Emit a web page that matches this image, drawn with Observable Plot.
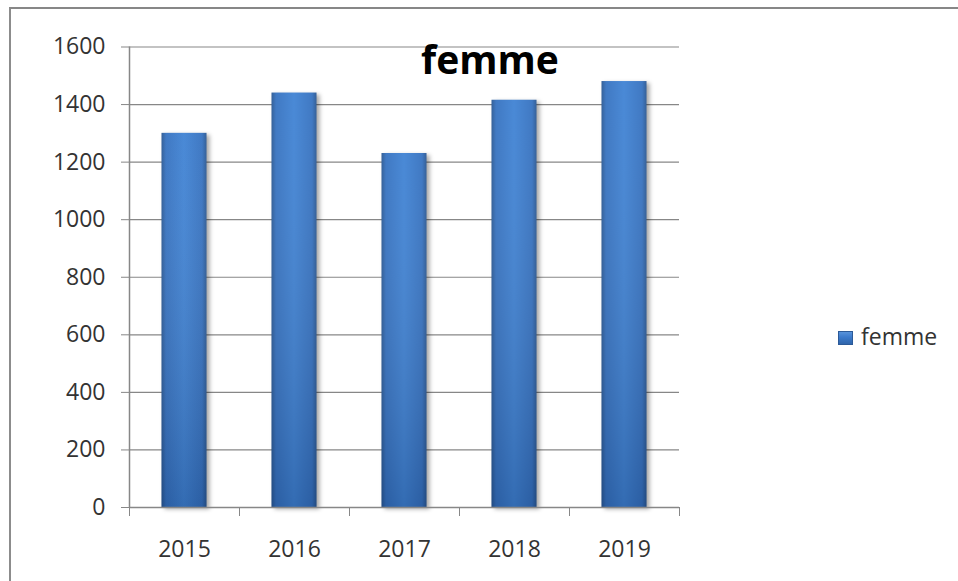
<!DOCTYPE html>
<html>
<head>
<meta charset="utf-8">
<script src="https://cdn.jsdelivr.net/npm/d3@7"></script>
<script src="https://cdn.jsdelivr.net/npm/@observablehq/plot@0.6"></script>
<style>
  html, body { margin: 0; padding: 0; background: #fff; }
  #wrap { position: relative; width: 958px; height: 581px; overflow: hidden; font-family: "Open Sans", sans-serif; }
  #border { position: absolute; left: 9px; top: 7px; right: -5px; bottom: -5px; border-top: 2px solid #878787; border-left: 2px solid #8c8c8c; pointer-events: none; }
  #title { position: absolute; left: 390px; top: 39px; width: 200px; text-align: center; font-weight: 700; font-size: 39px; line-height: 1; color: #000; }
  #legend { position: absolute; left: 838px; top: 325px; font-size: 23px; line-height: 1; color: #333; display: flex; align-items: flex-start; }
  #legend .sw { width: 15px; height: 14px; margin-top: 6px; margin-right: 8px; background: linear-gradient(180deg, #5d97dd 0%, #3b7acb 45%, #2e62a6 100%); box-shadow: inset 0 0 0 1px #2c5a98; }
  svg { position: absolute; left: 0; top: 0; }
</style>
</head>
<body>
<div id="wrap">
  <div id="chart"></div>
  <div id="title"></div>
  <div id="legend"><div class="sw"></div><span id="legtext"></span></div>
  <div id="border"></div>
</div>
<script>
// ---- data ----
const years = ["2015", "2016", "2017", "2018", "2019"];
const femme = [1300, 1440, 1230, 1415, 1480];
const seriesName = "femme";
const yTicks = [0, 200, 400, 600, 800, 1000, 1200, 1400, 1600];

const data = years.map((y, i) => ({ year: y, i, value: femme[i] }));
const labelPos = years.map((_, i) => i + 0.5);
const boundaries = d3.range(years.length + 1);

document.getElementById("title").textContent = seriesName;
document.getElementById("legtext").textContent = seriesName;

const gray = "#878787";
const inset = 32.5;

const chart = Plot.plot({
  width: 958,
  height: 581,
  marginLeft: 129,
  marginRight: 279,
  marginTop: 46.5,
  marginBottom: 74,
  style: { fontFamily: "Open Sans, sans-serif", fontSize: "23px", color: "#333", background: "transparent" },
  x: { domain: [0, years.length], axis: null, label: null },
  y: { domain: [0, 1600], axis: null, label: null },
  marks: [
    Plot.ruleY(yTicks.filter(d => d > 0), { stroke: gray, strokeWidth: 1.2, x1: 0, x2: years.length }),
    Plot.rectY(data, { x1: "i", x2: d => d.i + 1, y1: 0, y2: "value", insetLeft: inset, insetRight: inset, fill: "url(#barH)" }),
    Plot.rectY(data, { x1: "i", x2: d => d.i + 1, y1: 0, y2: "value", insetLeft: inset, insetRight: inset, fill: "url(#barV)" }),
    Plot.tickY(data, { x1: "i", x2: d => d.i + 1, y: "value", insetLeft: inset + 1, insetRight: inset + 1, stroke: "url(#bevel)", strokeWidth: 7, dy: 3.5 }),
    Plot.ruleX([0], { stroke: gray, strokeWidth: 1.5, y1: 0, y2: 1600 }),
    Plot.ruleY([0], { stroke: gray, strokeWidth: 1.5, x1: 0, x2: years.length }),
    Plot.axisY({ ticks: yTicks, tickSize: 8, tickPadding: 16, stroke: gray, tickFormat: d => String(d), fill: "#333", label: null }),
    Plot.axisX({ ticks: boundaries, tickSize: 9, tickFormat: () => "", stroke: gray, label: null }),
    Plot.axisX({ ticks: labelPos, tickSize: 0, tickPadding: 33, tickFormat: d => years[Math.floor(d)], fill: "#333", label: null })
  ]
});

const defs = `
<defs>
  <linearGradient id="barH" x1="0" y1="0" x2="1" y2="0">
    <stop offset="0" stop-color="#2a5893"/>
    <stop offset="0.1" stop-color="#3672c0"/>
    <stop offset="0.5" stop-color="#4083d4"/>
    <stop offset="0.9" stop-color="#3672c0"/>
    <stop offset="1" stop-color="#2a5893"/>
  </linearGradient>
  <linearGradient id="barV" x1="0" y1="0" x2="0" y2="1">
    <stop offset="0" stop-color="#ffffff" stop-opacity="0.05"/>
    <stop offset="1" stop-color="#001030" stop-opacity="0.2"/>
  </linearGradient>
  <linearGradient id="bevel" x1="0" y1="0" x2="0" y2="1">
    <stop offset="0" stop-color="#8dbcf0"/>
    <stop offset="1" stop-color="#5a94dc"/>
  </linearGradient>
</defs>`;
chart.insertAdjacentHTML("afterbegin", defs);
const barGroups = chart.querySelectorAll('g[aria-label="rect"]');
if (barGroups[0]) barGroups[0].style.filter = "drop-shadow(3px 2px 2px rgba(0,0,0,0.35))";
document.getElementById("chart").appendChild(chart);
</script>
</body>
</html>
